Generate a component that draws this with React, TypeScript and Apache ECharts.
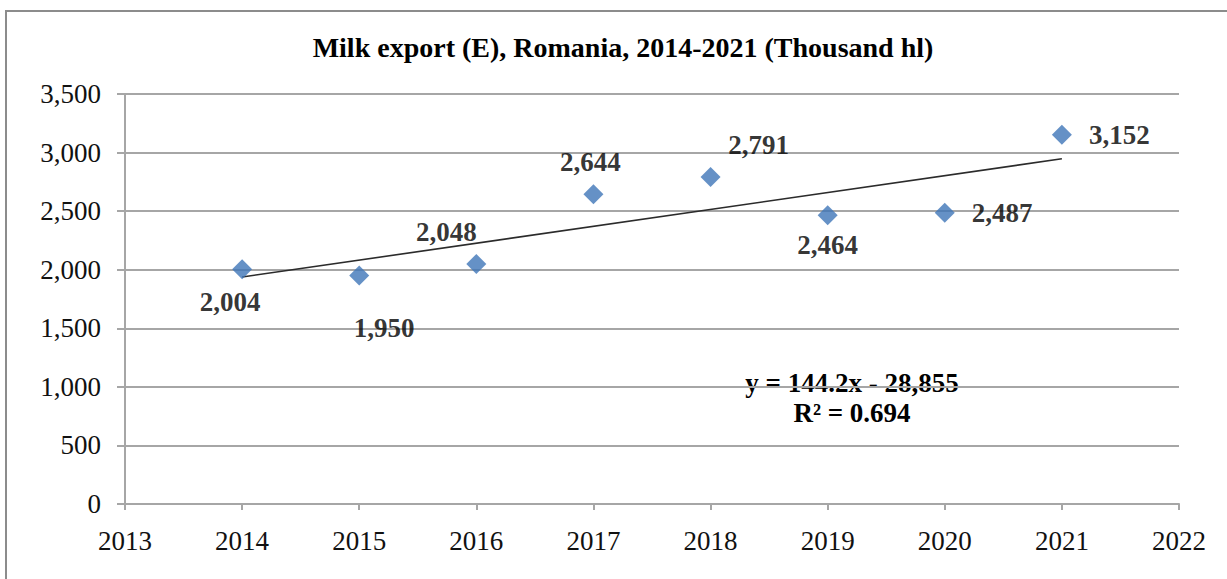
import React, { useEffect, useRef } from "react";
import * as echarts from "echarts";

const years = [2014, 2015, 2016, 2017, 2018, 2019, 2020, 2021];
const milkExport = [2004, 1950, 2048, 2644, 2791, 2464, 2487, 3152];
const titleText = "Milk export (E), Romania, 2014-2021 (Thousand hl)";
const equationLines = ["y = 144.2x - 28,855", "R² = 0.694"];

const FONT = "'Liberation Serif', 'Times New Roman', serif";

// label placement per point: [dx, dy] from the marker centre, or "right"
const labelPlacement: (number[] | string)[] = [
  [-12, 33],
  [25, 52],
  [-30, -32],
  [-3, -32],
  [48, -32],
  [0, 30],
  "right",
  "right",
];

function regression(xs: number[], ys: number[]) {
  const n = xs.length;
  const mx = xs.reduce((a, b) => a + b, 0) / n;
  const my = ys.reduce((a, b) => a + b, 0) / n;
  let sxy = 0;
  let sxx = 0;
  for (let i = 0; i < n; i++) {
    sxy += (xs[i] - mx) * (ys[i] - my);
    sxx += (xs[i] - mx) * (xs[i] - mx);
  }
  const slope = sxy / sxx;
  return { slope, intercept: my - slope * mx };
}

export default function App() {
  const ref = useRef<HTMLDivElement>(null);
  useEffect(() => {
    if (!ref.current) return;
    const chart = echarts.init(ref.current, undefined, { renderer: "svg" });
    const { slope, intercept } = regression(years, milkExport);
    const xFirst = years[0];
    const xLast = years[years.length - 1];

    const labelBase = {
      show: true,
      color: "#000",
      fontFamily: FONT,
      fontWeight: "bold" as const,
      fontSize: 27,
      formatter: (p: any) => p.value[1].toLocaleString("en-US"),
    };

    const points = years.map((y, i) => {
      const pl = labelPlacement[i];
      const label =
        pl === "right"
          ? { ...labelBase, position: "right", distance: 17 }
          : {
              ...labelBase,
              position: "inside",
              align: "center",
              verticalAlign: "middle",
              offset: pl as number[],
            };
      return { value: [y, milkExport[i]], label };
    });

    chart.setOption({
      animation: false,
      backgroundColor: "#fff",
      grid: { left: 125, right: 48, top: 94, bottom: 75, containLabel: false },
      xAxis: {
        type: "value",
        min: 2013,
        max: 2022,
        interval: 1,
        axisLine: { show: true, lineStyle: { color: "#a6a6a6", width: 2 } },
        axisTick: { show: true, length: 6, inside: false, lineStyle: { color: "#a6a6a6", width: 2 } },
        splitLine: { show: false },
        axisLabel: {
          color: "#111",
          fontFamily: FONT,
          fontSize: 27,
          margin: 23,
          formatter: (v: number) => String(v),
        },
      },
      yAxis: {
        type: "value",
        min: 0,
        max: 3500,
        interval: 500,
        axisLine: { show: true, lineStyle: { color: "#a6a6a6", width: 2 } },
        axisTick: { show: true, length: 8, inside: false, lineStyle: { color: "#a6a6a6", width: 2 } },
        splitLine: { show: true, lineStyle: { color: "#a6a6a6", width: 2 } },
        axisLabel: {
          color: "#111",
          fontFamily: FONT,
          fontSize: 27,
          margin: 24,
          formatter: (v: number) => v.toLocaleString("en-US"),
        },
      },
      series: [
        {
          type: "line",
          data: [
            [xFirst, slope * xFirst + intercept],
            [xLast, slope * xLast + intercept],
          ],
          symbol: "none",
          lineStyle: { color: "#2b2b2b", width: 1.6 },
          z: 2,
          silent: true,
        },
        {
          type: "scatter",
          data: points,
          symbol: "diamond",
          symbolSize: 20,
          itemStyle: { color: "#3f75b8" },
          z: 3,
        },
      ],
      graphic: [
        {
          type: "rect",
          shape: { x: 6, y: 11, width: 1400, height: 800 },
          style: { fill: "none", stroke: "#8c8c8c", lineWidth: 2 },
          silent: true,
        },
        {
          type: "text",
          x: 623,
          y: 47,
          style: {
            text: titleText,
            fontFamily: FONT,
            fontWeight: "bold",
            fontSize: 28,
            fill: "#000",
            align: "center",
            verticalAlign: "middle",
          },
        },
        {
          type: "text",
          x: 852,
          y: 383,
          style: {
            text: equationLines[0],
            fontFamily: FONT,
            fontWeight: "bold",
            fontSize: 27,
            fill: "#000",
            align: "center",
            verticalAlign: "middle",
          },
        },
        {
          type: "text",
          x: 852,
          y: 413,
          style: {
            text: equationLines[1],
            fontFamily: FONT,
            fontWeight: "bold",
            fontSize: 27,
            fill: "#000",
            align: "center",
            verticalAlign: "middle",
          },
        },
      ],
    });
    return () => chart.dispose();
  }, []);
  return (
    <div
      ref={ref}
      style={{ position: "fixed", left: 0, top: 0, width: 1227, height: 579 }}
    />
  );
}
